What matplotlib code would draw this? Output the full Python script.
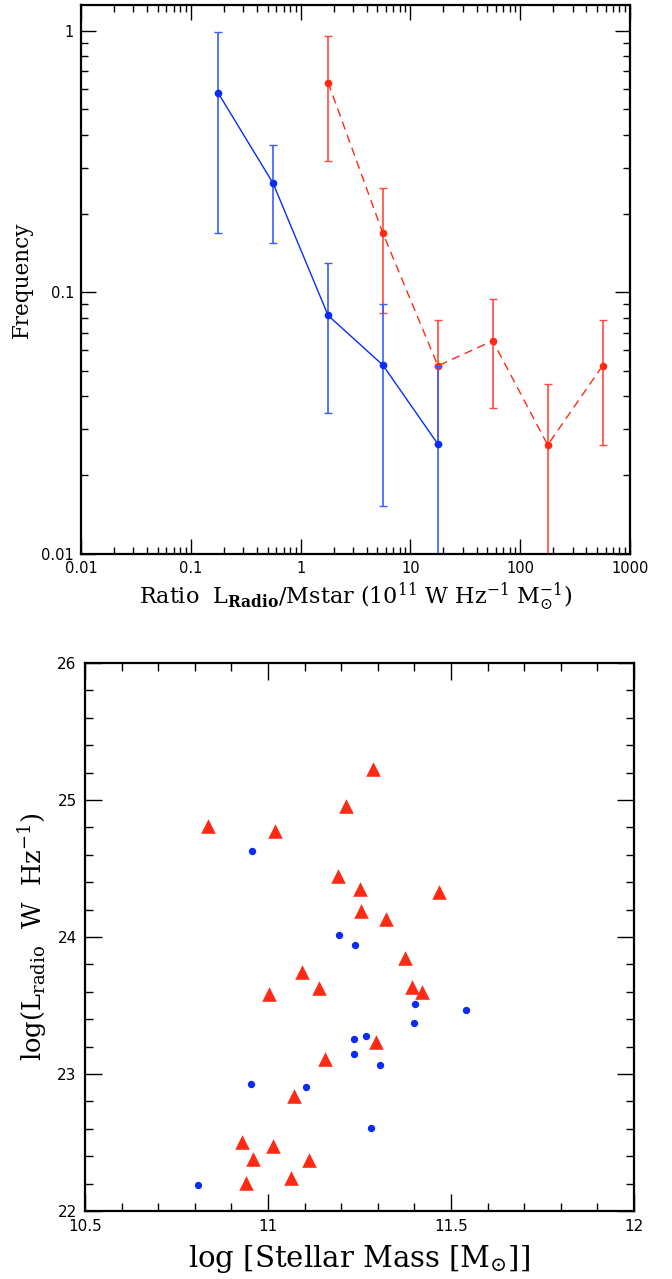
import matplotlib
matplotlib.use("Agg")
import matplotlib.pyplot as plt
import numpy as np
from matplotlib.ticker import LogLocator, MultipleLocator, FixedLocator, NullFormatter

# --- top panel: frequency vs ratio ---
blue_x = [0.178, 0.562, 1.78, 5.62, 17.8]
blue_y = [0.577, 0.261, 0.0816, 0.0527, 0.0263]
blue_hi = [0.99, 0.366, 0.129, 0.090, 0.0524]
blue_lo = [0.169, 0.154, 0.0345, 0.0153, 0.001]

red_x = [1.78, 5.62, 17.8, 56.2, 178, 562]
red_y = [0.634, 0.168, 0.0524, 0.0653, 0.0261, 0.0524]
red_hi = [0.953, 0.251, 0.0785, 0.0946, 0.0447, 0.0785]
red_lo = [0.318, 0.0836, 0.0263, 0.0361, 0.001, 0.0261]

xticks_top = [0.01, 0.1, 1, 10, 100, 1000]
xlabels_top = ["0.01", "0.1", "1", "10", "100", "1000"]
yticks_top = [0.01, 0.1, 1]
ylabels_top = ["0.01", "0.1", "1"]

# --- bottom panel: radio luminosity vs stellar mass ---
tri_mass = [10.835, 11.018, 11.286, 11.212, 11.191, 11.250, 11.253, 11.323,
            11.468, 11.373, 11.094, 11.140, 11.002, 11.393, 11.421, 11.295,
            11.157, 11.072, 10.928, 11.014, 10.959, 11.112, 11.064, 10.939]
tri_lum = [24.813, 24.775, 25.226, 24.953, 24.442, 24.347, 24.193, 24.128,
           24.326, 23.846, 23.745, 23.626, 23.585, 23.638, 23.596, 23.231,
           23.110, 22.843, 22.501, 22.478, 22.383, 22.374, 22.243, 22.202]

dot_mass = [10.955, 11.193, 11.239, 11.403, 11.540, 11.398, 11.269, 11.235,
            11.235, 11.307, 10.954, 11.104, 11.282, 10.810]
dot_lum = [24.626, 24.012, 23.938, 23.510, 23.469, 23.374, 23.279, 23.258,
           23.145, 23.068, 22.929, 22.905, 22.608, 22.193]

plt.rcParams['font.family'] = 'DejaVu Sans'
plt.rcParams['mathtext.fontset'] = 'dejavuserif'

BLUE = '#0a2cf5'
RED = '#ff2a14'

fig = plt.figure(figsize=(6.72, 12.79), dpi=100)

# top
ax1 = fig.add_axes([81/672, 1 - 554/1279, 549/672, 549/1279])
bx = np.array(blue_x); by = np.array(blue_y)
rx = np.array(red_x); ry = np.array(red_y)
ax1.errorbar(rx, ry, yerr=[ry - np.array(red_lo), np.array(red_hi) - ry],
             fmt='none', ecolor='#ff4a3a', elinewidth=1.2, capsize=3, capthick=1)
ax1.plot(rx, ry, color=RED, lw=1.0, ls=(0, (6, 4)), marker='o', ms=4.5,
         mfc=RED, mec=RED)
ax1.errorbar(bx, by, yerr=[by - np.array(blue_lo), np.array(blue_hi) - by],
             fmt='none', ecolor='#3a5cff', elinewidth=1.2, capsize=3, capthick=1)
ax1.plot(bx, by, color=BLUE, lw=1.0, marker='o', ms=4.5, mfc=BLUE, mec=BLUE)

ax1.set_xscale('log')
ax1.set_yscale('log')
ax1.set_xlim(0.01, 1000)
ax1.set_ylim(0.01, 1.254)
ax1.xaxis.set_major_locator(FixedLocator(xticks_top))
ax1.set_xticklabels(xlabels_top)
ax1.yaxis.set_major_locator(FixedLocator(yticks_top))
ax1.set_yticklabels(ylabels_top)
ax1.xaxis.set_minor_locator(LogLocator(base=10, subs=np.arange(2, 10)))
ax1.yaxis.set_minor_locator(LogLocator(base=10, subs=np.arange(2, 10)))
ax1.xaxis.set_minor_formatter(NullFormatter())
ax1.yaxis.set_minor_formatter(NullFormatter())
ax1.tick_params(which='both', direction='in', top=True, right=True,
                labelsize=10.5, width=1, pad=5)
ax1.tick_params(which='major', length=11)
ax1.tick_params(which='minor', length=5)
for s in ax1.spines.values():
    s.set_linewidth(1.6)
ax1.set_xlabel(r'Ratio  L$_{\mathbf{Radio}}$/Mstar (10$^{11}$ W Hz$^{-1}$ M$_{\odot}^{-1}$)',
               family='DejaVu Serif', fontsize=16, labelpad=3)
ax1.set_ylabel('Frequency', family='DejaVu Serif', fontsize=15.5, labelpad=6)

# bottom
ax2 = fig.add_axes([85/672, 1 - 1211/1279, 549/672, 548/1279])
ax2.scatter(tri_mass, tri_lum, marker='^', s=110, color=RED, linewidths=0, zorder=3)
ax2.scatter(dot_mass, dot_lum, marker='o', s=28, color=BLUE, linewidths=0, zorder=3)
ax2.set_xlim(10.5, 12)
ax2.set_ylim(22, 26)
ax2.xaxis.set_major_locator(MultipleLocator(0.5))
ax2.xaxis.set_minor_locator(MultipleLocator(0.1))
ax2.yaxis.set_major_locator(MultipleLocator(1))
ax2.yaxis.set_minor_locator(MultipleLocator(0.2))
ax2.set_xticks([10.5, 11, 11.5, 12])
ax2.set_xticklabels(['10.5', '11', '11.5', '12'])
ax2.set_yticks([22, 23, 24, 25, 26])
ax2.set_yticklabels(['22', '23', '24', '25', '26'])
ax2.tick_params(which='both', direction='in', top=True, right=True,
                labelsize=11, width=1, pad=6)
ax2.tick_params(which='major', length=12)
ax2.tick_params(which='minor', length=6)
for s in ax2.spines.values():
    s.set_linewidth(1.6)
ax2.set_xlabel(r'log [Stellar Mass [M$_{\odot}$]]', family='DejaVu Serif',
               fontsize=21, labelpad=6)
ax2.set_ylabel(r'log(L$_{\rm radio}$  W  Hz$^{-1}$)', family='DejaVu Serif',
               fontsize=18.5, labelpad=6)

fig.savefig('out.png', dpi=100)
